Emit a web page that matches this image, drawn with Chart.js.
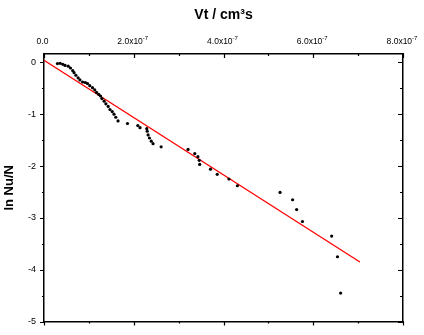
<!DOCTYPE html>
<html>
<head>
<meta charset="utf-8">
<script src="https://cdn.jsdelivr.net/npm/chart.js@4/dist/chart.umd.min.js"></script>
<style>
  html, body { margin: 0; padding: 0; background: #ffffff; }
  #wrap { width: 424px; height: 335px; }
</style>
</head>
<body>
<div id="wrap"><canvas id="c" width="424" height="335"></canvas></div>
<script>
// x values are in units of 1e-7 cm^3 s
const xValues = [0.30,0.36,0.42,0.47,0.54,0.59,0.64,0.67,0.71,0.76,0.80,0.86,0.92,0.97,1.02,1.08,1.13,1.17,1.22,1.26,1.29,1.34,1.38,1.43,1.47,1.52,1.56,1.60,1.65,1.86,2.09,2.14,2.29,2.30,2.32,2.35,2.39,2.43,2.61,3.21,3.36,3.43,3.46,3.47,3.71,3.86,4.12,4.31,5.26,5.54,5.63,5.76,6.41,6.54,6.61];
const yValues = [-0.025,-0.02,-0.04,-0.06,-0.075,-0.11,-0.16,-0.20,-0.25,-0.30,-0.34,-0.38,-0.39,-0.41,-0.45,-0.49,-0.53,-0.58,-0.62,-0.65,-0.70,-0.75,-0.80,-0.85,-0.91,-0.95,-1.00,-1.06,-1.13,-1.18,-1.22,-1.26,-1.28,-1.33,-1.40,-1.46,-1.52,-1.57,-1.63,-1.68,-1.76,-1.82,-1.89,-1.97,-2.06,-2.16,-2.25,-2.38,-2.51,-2.65,-2.84,-3.07,-3.35,-3.75,-4.45];
const fitX = [0, 7.04];
const fitY = [0.04, -3.85];

const xMajorTicks = [0, 2, 4, 6, 8];
const xMinorTicks = [1, 3, 5, 7];
const xTickMantissas = ['0.0', '2.0x10', '4.0x10', '6.0x10', '8.0x10'];
const xTickExponents = ['', '-7', '-7', '-7', '-7'];
const yMajorTicks = [-5, -4, -3, -2, -1, 0];
const yMinorTicks = [-4.5, -3.5, -2.5, -1.5, -0.5];
const yTickLabels = ['-5', '-4', '-3', '-2', '-1', '0'];

const xTitle = 'Vt / cm\u00B3s';
const yTitle = 'ln Nu/N';

const FONT = "Arial, 'Liberation Sans', sans-serif";

const scatterData = xValues.map((x, i) => ({ x: x, y: yValues[i] }));
const fitData = fitX.map((x, i) => ({ x: x, y: fitY[i] }));

const axisDecor = {
  id: 'axisDecor',
  afterDraw(chart) {
    const ctx = chart.ctx;
    const a = chart.chartArea;
    const sx = chart.scales.x, sy = chart.scales.y;
    ctx.save();
    // tick marks
    ctx.strokeStyle = '#000';
    ctx.lineWidth = 1.2;
    ctx.beginPath();
    const vx = (list, len, lenB) => list.forEach(v => {
      const p = Math.round(sx.getPixelForValue(v)) + 0.5;
      ctx.moveTo(p, a.top); ctx.lineTo(p, a.top + len);
      ctx.moveTo(p, a.bottom); ctx.lineTo(p, a.bottom + lenB);
    });
    const vy = (list, len, lenR) => list.forEach(v => {
      const p = Math.round(sy.getPixelForValue(v)) + 0.5;
      ctx.moveTo(a.left, p); ctx.lineTo(a.left - len, p);
      ctx.moveTo(a.right, p); ctx.lineTo(a.right - lenR, p);
    });
    vx(xMajorTicks, 4, 4);
    vx(xMinorTicks, 2, 2);
    vy(yMajorTicks, 4, 5);
    vy(yMinorTicks, 2, 3);
    ctx.stroke();
    // top tick labels with superscript exponent
    ctx.fillStyle = '#000';
    ctx.textBaseline = 'alphabetic';
    ctx.textAlign = 'left';
    const mainFont = '8.5px ' + FONT;
    const supFont = '6px ' + FONT;
    xMajorTicks.forEach((v, i) => {
      const p = sx.getPixelForValue(v);
      ctx.font = mainFont;
      const w1 = ctx.measureText(xTickMantissas[i]).width;
      ctx.font = supFont;
      const w2 = xTickExponents[i] ? ctx.measureText(xTickExponents[i]).width : 0;
      const start = p - (w1 + w2) / 2 - (w2 ? 1 : 1.5);
      const base = a.top - 10;
      ctx.font = mainFont;
      ctx.fillText(xTickMantissas[i], start, base);
      if (w2) {
        ctx.font = supFont;
        ctx.fillText(xTickExponents[i], start + w1, base - 4);
      }
    });
    ctx.restore();
  }
};

new Chart(document.getElementById('c'), {
  type: 'scatter',
  data: {
    datasets: [
      {
        data: scatterData,
        backgroundColor: '#000',
        borderWidth: 0,
        pointRadius: 1.6,
        showLine: false
      },
      {
        data: fitData,
        showLine: true,
        borderColor: '#ff0000',
        borderWidth: 1.3,
        pointRadius: 0,
        fill: false
      }
    ]
  },
  options: {
    responsive: false,
    devicePixelRatio: 1,
    animation: false,
    layout: { padding: 0 },
    plugins: { legend: { display: false }, tooltip: { enabled: false } },
    scales: {
      x: {
        type: 'linear', position: 'top', min: 0, max: 8,
        afterBuildTicks: s => { s.ticks = xMajorTicks.map(v => ({ value: v })); },
        afterFit: s => { s.height = 54; },
        ticks: { display: false },
        grid: { display: false, drawTicks: false },
        border: { display: true, color: '#000', width: 1.5 },
        title: { display: true, text: xTitle, color: '#000', padding: { top: 7, bottom: 0 },
                 font: { family: FONT, size: 14, weight: 'bold' } }
      },
      x2: {
        type: 'linear', position: 'bottom', min: 0, max: 8,
        afterFit: s => { s.height = 8; },
        ticks: { display: false },
        grid: { display: false, drawTicks: false },
        border: { display: true, color: '#000', width: 1.5 }
      },
      y: {
        type: 'linear', position: 'left', min: -5, max: 0.16,
        afterBuildTicks: s => { s.ticks = yMajorTicks.map(v => ({ value: v })); },
        afterFit: s => { s.width = 44; },
        ticks: {
          autoSkip: false, padding: 8, color: '#000',
          font: { family: FONT, size: 9 },
          callback: (v) => yTickLabels[yMajorTicks.indexOf(v)]
        },
        grid: { display: false, drawTicks: false },
        border: { display: true, color: '#000', width: 1.5 },
        title: { display: true, text: yTitle, color: '#000', padding: { top: 2, bottom: 0 },
                 font: { family: FONT, size: 13, weight: 'bold' } }
      },
      y2: {
        type: 'linear', position: 'right', min: -5, max: 0.16,
        afterFit: s => { s.width = 21; },
        ticks: { display: false },
        grid: { display: false, drawTicks: false },
        border: { display: true, color: '#000', width: 1.5 }
      }
    }
  },
  plugins: [axisDecor]
});
</script>
</body>
</html>
